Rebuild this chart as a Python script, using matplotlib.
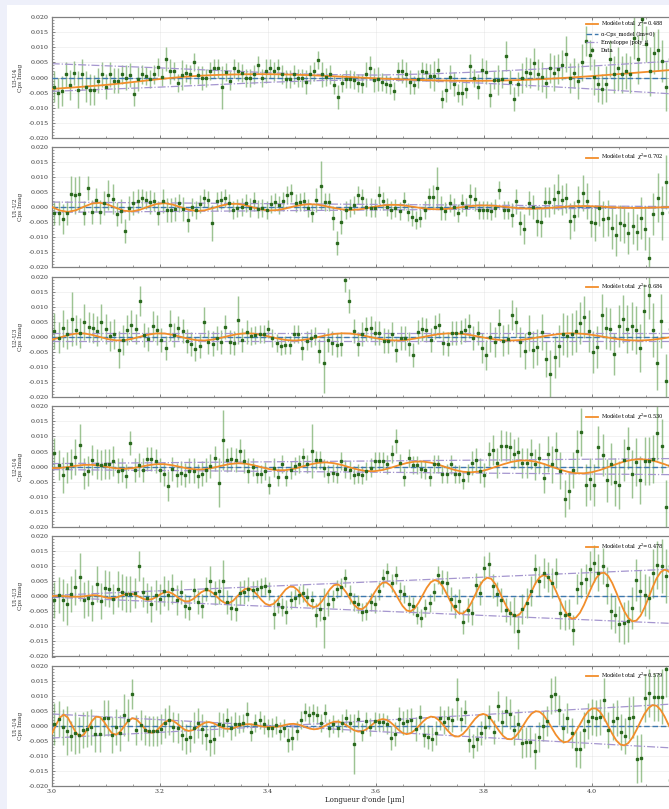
import matplotlib
matplotlib.use("Agg")
import matplotlib.pyplot as plt
from matplotlib.ticker import MultipleLocator, FormatStrFormatter
import numpy as np

# values are in units of 1e-3 (Cps imaginary part)
baselines = ["U3-U4", "U1-U2", "U2-U3", "U2-U4", "U1-U3", "U1-U4"]
chi2 = [0.488, 0.702, 0.684, 0.530, 0.478, 0.579]

cps_u3u4 = [
    -3, -5, -4.5, 1, -2.5, 1.5, -4, 1, -3, -4,
    -4.2, -1, 1, -3, 1, -1, -1, 1, 0, 0.7,
    -5.5, -0.5, 1, 0.5, -0.5, 1, 3.5, 0.3, 6, 2,
    2.2, -1.7, 0.8, 1.5, 1, 5, 0.8, -0.3, -0.3, 2.2,
    3, 3, -3.3, 1.7, -1, 3, 2, 1.5, -0.2, -0.3,
    1, 4, -0.3, 2.2, 3, 2, 3, 1, -0.6, -0.6,
    1, -0.2, -0.2, -1.5, 1, 2, 5.8, 1, 0.3, 1,
    -2.5, -6.5, -1.7, -0.5, -0.5, -0.8, -1.7, -2, 1, 3.3,
    -0.8, -0.5, -1.5, -2.2, -2.4, -4.5, 2, 2.2, 1, -1.5,
    -2.5, -0.5, 2, 1.7, 0.5, 0.5, 2.5, -7.2, -4, 0.3,
    -2.2, -5.3, -5.2, -3.7, 3.7, -0.2, -3, 2.5, 1.7, -5.8,
    -0.8, -0.8, -0.5, 7, -1.5, -7.2, -2.2, -0.3, 1.7, 1.5,
    4.8, 1, 0.3, -1.7, 3.3, 1.5, 2.8, 4.2, 7.8, -0.2,
    1.5, -1.1, 5, 12.2, 7.4, 0.3, -2.2, -3.7, -2.2, 6.3,
    1, 3, 1, 2.2, 1, 13, 6, 19.5, 11, 2,
    8, 9, 5.5, -3, 6]
err_u3u4 = [
    5, 5, 5, 4, 5, 4, 6, 5, 5, 5,
    5, 4, 4, 4, 4, 4, 4, 3, 4, 4,
    4, 4, 3, 3, 3, 3, 3, 3, 4, 4,
    3, 3, 5, 3, 3, 3, 3, 4, 3, 3,
    3, 3, 7, 3, 3, 3, 3, 3, 3, 3,
    3, 3, 3, 4, 3, 3, 3, 3, 3, 3,
    3, 3, 3, 4, 3, 3, 3, 4, 3, 3,
    3, 4, 3, 3, 3, 3, 3, 3, 4, 4,
    4, 4, 3, 3, 3, 3, 3, 4, 4, 4,
    3, 3, 3, 3, 4, 5, 4, 3, 4, 4,
    4, 3, 4, 3, 4, 3, 4, 4, 4, 4,
    3, 5, 3, 5, 4, 4, 4, 5, 5, 5,
    5, 5, 5, 5, 5, 6, 5, 5, 6, 5,
    5, 6, 6, 5, 5, 6, 6, 5, 6, 6,
    6, 7, 6, 6, 6, 7, 8, 7, 6, 8,
    7, 7, 7, 8, 7]

cps_u1u2 = [
    -1.8, -1.8, -3.9, -2, 4.3, 3.9, 4.3, -1.8, 6.3, -1.5,
    2.4, -1.7, 1.3, 4.1, 2.8, -2.3, -1.4, -7.9, -0.3, 1.3,
    2.1, 3.0, 2.4, 1.7, 1.9, -2.0, 2.1, -0.9, -0.9, -0.7,
    1.3, -0.6, -4.2, 0.2, -0.9, 1.0, 3.2, 2.4, -5.3, 1.9,
    2.4, 3.2, 1.3, -0.9, -0.3, 0.2, 1.3, -0.1, 1.9, -0.7,
    -0.3, -0.9, 1.0, 1.6, 0.8, 1.9, 4.1, 4.7, 1.3, 1.6,
    1.9, -0.3, -2.0, 2.4, 7.2, 1.6, 1.7, -3.7, -12.0, -4.8,
    -0.9, -0.3, 0.8, 4.1, 3.0, 0.2, -0.1, -0.3, 3.9, 2.1,
    0.2, -0.9, -0.3, -1.4, 2.1, -1.7, -3.1, -4.2, -3.7, -0.9,
    3.5, 3.5, 6.3, -0.3, -1.4, 1.3, 0.2, -1.8, 1.3, 0,
    3.8, 2.8, -0.9, -0.9, -0.9, -1.4, -0.3, 5.8, -0.9, -0.9,
    -2.6, 1.9, -5.3, -7.2, 1.3, 0.2, -4.6, -5.0, 1.6, 1.6,
    2.8, 5.0, 2.4, 3.0, -4.6, -2.8, 1.9, 4.8, 2.1, -4.8,
    -5.3, -0.3, -3.9, -3.5, -7.0, -9.2, -5.3, -5.9, -8.7, -6.1,
    -8.3, -3.7, -7.2, -17, -2.3, 3.2, -2.0, 8.3, -1.7]
err_u1u2 = [
    4, 4, 5, 4, 6, 6, 6, 4, 4, 4,
    4, 4, 4, 5, 5, 4, 4, 4, 4, 4,
    4, 3, 3, 4, 3, 4, 4, 4, 4, 4,
    3, 4, 4, 3, 3, 3, 3, 3, 6, 3,
    3, 3, 3, 3, 3, 3, 3, 3, 3, 3,
    3, 3, 3, 3, 3, 3, 3, 3, 3, 3,
    3, 3, 3, 4, 8, 3, 3, 4, 4, 4,
    3, 3, 3, 3, 3, 3, 3, 3, 3, 3,
    3, 3, 3, 3, 3, 3, 3, 3, 3, 3,
    3, 4, 7, 4, 3, 3, 3, 3, 3, 3,
    4, 4, 3, 3, 3, 3, 3, 3, 3, 3,
    4, 4, 4, 5, 4, 4, 5, 5, 5, 5,
    5, 6, 5, 5, 6, 5, 5, 6, 6, 5,
    6, 6, 6, 6, 7, 7, 6, 6, 7, 6,
    6, 7, 7, 7, 7, 8, 9, 9, 8]

cps_u2u3 = [
    2.1, -0.2, 2.8, 1.1, 5.9, 2.4, 1.4, 4.9, 3.4, 2.9,
    1.9, 4.9, 2.7, 0.3, 1.0, -4.2, -1.0, 2.4, 3.8, 2.5,
    12.0, 0.5, -0.6, 3.5, 2.4, -1.0, -3.6, 3.8, 0.6, 3.1,
    2.0, -1.5, -2.4, -4.0, -3.1, 5.0, -1.6, -2.2, -0.5, -1.8,
    3.3, -1.8, -1.9, 5.6, -1.0, 1.5, 0.3, 0.7, 1.0, 1.0,
    2.6, -0.5, -2.0, -2.9, -2.6, -2.6, 0.9, 1.0, -3.8, -1.2,
    -0.5, 0.2, -4.6, -8.8, -0.9, -1.9, -2.6, -2.4, 19.0, 12.0,
    1.9, -2.4, 1.0, 2.5, 2.9, 1.2, 1.2, -1.2, -1.3, 0.9,
    -4.4, -0.3, -0.3, -2.3, -5.9, 1.5, 2.6, 2.3, -1.1, 3.4,
    3.8, -2.0, -2.4, 1.2, 1.4, 1.7, 2.2, 3.6, -0.5, 1.3,
    -3.8, -5.9, 0, -1.6, 4.3, -1.2, -0.8, 7.2, 5.0, -1.8,
    -4.6, 1.4, -4.2, -3.5, 1.6, -7.2, -12.3, -6.7, -3.0, 1.1,
    0.4, 0.9, 1.9, 4.7, 6.5, 1.9, -5.1, -3.3, 7.2, 3.0,
    2.5, -5.7, 3.5, 5.9, 2.6, 3.7, 2.4, -3.6, 8.5, 13.8,
    2.2, -8.6, 5.2, -14.6, 2.5]
err_u2u3 = [
    6, 5, 6, 5, 9, 5, 5, 6, 5, 5,
    5, 6, 5, 5, 5, 6, 5, 5, 5, 5,
    5, 4, 4, 5, 5, 4, 4, 5, 4, 4,
    4, 4, 4, 4, 4, 5, 4, 4, 4, 4,
    4, 4, 4, 8, 4, 4, 3, 3, 3, 3,
    3, 3, 3, 3, 3, 3, 3, 3, 4, 3,
    3, 3, 4, 10, 4, 4, 4, 4, 4, 4,
    4, 4, 4, 4, 4, 4, 4, 4, 4, 4,
    4, 4, 4, 4, 4, 4, 4, 4, 4, 4,
    4, 4, 4, 4, 4, 4, 4, 4, 4, 4,
    5, 5, 5, 5, 5, 5, 5, 5, 5, 5,
    6, 6, 6, 6, 6, 6, 8, 7, 7, 7,
    7, 7, 7, 7, 7, 7, 7, 7, 7, 7,
    7, 7, 7, 8, 8, 8, 8, 8, 9, 8,
    9, 9, 9, 9, 9]

cps_u2u4 = [
    4.5, 0.5, -2.8, -0.3, 0.8, 3.2, 7.3, -2.3, -1.5, 2.3,
    1.0, 0.5, 0.8, 1.0, 2.0, -1.3, -1.0, -3.2, 7.9, -1.0,
    0.4, -1.0, 2.6, 2.5, 1.8, -1.2, -2.5, -6.3, -0.7, -2.7,
    -2.2, -2.8, -1.3, -1.3, -3.0, -2.3, -1.0, 0.3, 2.7, -5.3,
    8.8, 2.2, 2.5, 2.3, 5.2, 1.9, -1.3, 0, -2.6, -2.6,
    -1.5, -6.0, -0.3, -3.3, 1.0, -3.3, -1.0, 0.3, 1.0, 3.2,
    0.8, 5.3, 2.2, 2.3, -0.5, -2.5, -2.2, -2.3, 1.8, -0.8,
    -1.0, -2.8, -2.3, -2.8, -1.5, -0.3, 2.0, 2.0, 1.8, 0.7,
    4.1, 8.6, 1.1, -3.3, 2.9, 0.4, 0.5, -0.9, -1.0, -3.3,
    1.0, 0.8, -2.5, -2.3, 0.7, -2.5, -2.5, -4.6, -2.0, 1.2,
    2.3, -1.3, -2.8, 4.3, 5.5, 1.3, 7.0, 6.7, 6.5, 4.3,
    4.7, 1.3, 1.3, 4.3, 0.7, 3.0, -3.8, 4.1, 0.7, 5.5,
    -1.3, -10.6, -8.0, -1.0, 5.2, 11.6, -6.2, -4.2, -6.1, 6.5,
    3.8, -4.6, 1.0, -5.2, -6.2, 2.2, 6.2, -2.5, 1.5, -4.5,
    2.0, 1.8, 2.5, 11.1, 6.8, -13.3, 0.5]
err_u2u4 = [
    5, 5, 6, 5, 5, 6, 7, 5, 5, 5,
    5, 5, 5, 5, 5, 4, 4, 4, 4, 4,
    4, 4, 4, 4, 4, 4, 4, 5, 4, 4,
    4, 4, 4, 4, 4, 4, 4, 4, 4, 8,
    10, 4, 4, 4, 4, 4, 4, 3, 3, 3,
    3, 3, 3, 3, 3, 3, 3, 3, 3, 3,
    3, 9, 3, 3, 3, 3, 3, 3, 3, 3,
    3, 3, 3, 3, 3, 3, 3, 3, 3, 3,
    3, 4, 3, 3, 3, 3, 3, 3, 3, 3,
    3, 3, 3, 3, 3, 3, 3, 3, 3, 4,
    4, 4, 4, 4, 5, 5, 5, 5, 5, 5,
    5, 5, 5, 5, 5, 5, 5, 6, 6, 6,
    6, 6, 6, 6, 7, 8, 7, 7, 7, 7,
    7, 7, 7, 8, 8, 7, 7, 8, 8, 8,
    8, 8, 8, 9, 9, 9, 9]

cps_u1u3 = [
    -1.2, 0.5, -1.3, -2.7, 0.7, 3.1, 6.5, -1.3, -0.5, -2.3,
    4.2, -1.5, 2.8, 2.3, -0.8, 2.3, 1.3, 0.9, 0.9, 1.1,
    10.0, 1.5, -0.6, -2.6, 0.4, -1.0, 1.8, 0.3, 2.3, -1.3,
    1.5, -3.2, -4.0, 2.1, -1.8, -3.2, 2.3, 5.0, 1.0, 1.6,
    5.2, -1.8, -3.9, -4.1, 1.0, 1.5, 2.5, 2.0, 2.3, 3.1,
    3.3, 1.7, -6.0, -2.6, -3.5, -5.3, -1.3, -0.5, 0.5, 1.1,
    -0.3, -1.3, -6.3, -4.1, -7.2, -2.5, -1.0, 2.5, 3.1, 6.2,
    0.6, -1.9, -2.5, -5.3, -5.0, -1.8, -2.6, 1.8, 6.0, 8.1,
    4.5, 7.1, 1.8, 0.8, -2.6, -3.3, -6.3, -7.2, -3.8, -2.1,
    1.3, 7.2, 4.9, 4.4, -1.0, -3.3, -1.7, -8.6, -4.7, -5.6,
    3.8, 1.1, 9.4, 10.8, 3.3, 0.7, -1.3, -4.4, -5.4, -6.2,
    -11.5, -4.1, -2.3, 1.8, 9.1, 5.0, 7.6, 6.5, 4.4, 7.6,
    -5.7, -6.1, -5.8, -11.1, 2.3, 4.3, 5.8, 9.2, 10.9, 7.9,
    10.2, 3.6, -4.9, -6.1, -9.3, -8.8, -8.3, -3.8, 5.5, 1.8,
    0.5, -0.4, 7.6, 10.5, 10.2, 6.8, 10.2]
err_u1u3 = [
    6, 6, 7, 7, 6, 6, 8, 6, 6, 6,
    6, 6, 6, 6, 5, 6, 6, 6, 6, 5,
    5, 5, 5, 6, 5, 5, 5, 5, 5, 5,
    4, 4, 4, 4, 4, 4, 4, 5, 4, 4,
    7, 4, 4, 4, 4, 4, 4, 3, 3, 3,
    3, 3, 5, 3, 3, 4, 3, 3, 3, 3,
    3, 3, 4, 4, 10, 4, 3, 3, 3, 3,
    3, 3, 3, 3, 3, 3, 3, 3, 3, 3,
    3, 3, 3, 3, 3, 3, 3, 3, 3, 3,
    3, 3, 4, 4, 4, 4, 4, 4, 4, 4,
    4, 4, 4, 4, 4, 4, 4, 4, 4, 6,
    6, 5, 5, 5, 5, 5, 5, 5, 5, 5,
    5, 5, 5, 5, 5, 5, 5, 6, 6, 6,
    6, 6, 6, 6, 6, 7, 7, 7, 7, 7,
    7, 7, 8, 8, 9, 9, 9]

cps_u1u4 = [
    0.6, 2.3, -0.2, -1.5, -3.3, -2.4, -3.0, -1.3, -1.0, -0.2,
    -2.6, -2.6, 2.8, 2.8, -2.9, -0.4, -2.4, 3.6, 2.0, 10.6,
    -1.3, 0.3, -1.3, -1.8, -1.8, -1.8, -1.1, 1.1, 2.0, -0.2,
    -0.8, -2.9, -4.3, -3.5, -0.5, 1.1, -1.1, -2.9, -5.1, -4.3,
    0.7, 0.3, 2.0, -0.8, 0.7, 0.7, 1.1, 4.1, -2.1, 0.9,
    2.0, 0.5, -0.8, -0.5, 0.2, -1.8, -0.6, -4.8, -4.0, -1.5,
    2.0, 4.7, 3.5, 4.3, 3.8, 1.0, 4.3, -0.7, 0.6, -0.8,
    1.0, 2.6, 1.0, -6.0, 2.2, -2.1, 1.8, -0.2, 1.6, 1.3,
    1.3, 0.5, -4.1, -2.6, 2.2, 0.9, 1.8, 2.1, -1.0, 3.0,
    -3.0, -3.6, -4.2, -2.3, 2.6, 1.3, 2.6, 2.0, 9.1, 2.3,
    4.5, -4.5, -6.5, -4.4, -2.2, -0.4, 3.0, -2.0, 6.6, 1.3,
    4.9, 4.0, -1.2, 0.6, -5.5, -5.2, -5.2, -8.4, -3.7, 0.1,
    1.8, 10.0, 10.6, 5.4, -0.8, 2.8, -2.3, -7.7, -7.8, -1.3,
    1.8, 3.0, 2.7, 3.1, 8.8, -1.3, 1.5, 2.6, -2.0, -3.3,
    2.7, 2.9, -11.0, -10.7, 9.4, 10.9, 9.6, 9.6, 9.8, 18.8,
    -17.8]
err_u1u4 = [
    7, 6, 6, 8, 5, 7, 6, 6, 6, 6,
    6, 6, 6, 6, 6, 6, 6, 7, 7, 5,
    5, 5, 5, 5, 5, 5, 5, 5, 5, 5,
    5, 5, 5, 5, 5, 5, 5, 5, 5, 5,
    4, 4, 4, 4, 4, 3, 3, 4, 3, 3,
    3, 3, 3, 3, 3, 3, 3, 4, 4, 3,
    3, 3, 3, 3, 3, 3, 3, 3, 3, 3,
    3, 3, 3, 10, 3, 3, 3, 3, 3, 3,
    3, 3, 4, 4, 4, 4, 4, 4, 4, 4,
    4, 4, 4, 4, 4, 4, 4, 4, 7, 4,
    4, 4, 4, 4, 4, 4, 4, 4, 5, 4,
    5, 5, 5, 5, 5, 5, 5, 6, 5, 5,
    5, 6, 6, 5, 5, 5, 5, 6, 6, 6,
    6, 6, 6, 6, 7, 6, 6, 6, 6, 6,
    7, 7, 8, 8, 8, 8, 8, 8, 9, 9,
    9]

# total model (every 2nd model node for the slow ones)
model_u3u4 = [
    -3.80, -3.62, -3.43, -3.24, -3.03, -2.82, -2.62, -2.40, -2.12, -1.83,
    -1.53, -1.23, -0.93, -0.63, -0.36, -0.10, 0.13, 0.34, 0.52, 0.67,
    0.80, 0.89, 0.97, 1.03, 1.07, 1.09, 1.10, 1.09, 1.06, 1.01,
    0.94, 0.86, 0.76, 0.65, 0.53, 0.40, 0.27, 0.14, 0.01, -0.12,
    -0.25, -0.37, -0.48, -0.59, -0.69, -0.78, -0.86, -0.92, -0.98, -1.03,
    -1.07, -1.09, -1.10, -1.10, -1.08, -1.05, -1.00, -0.93, -0.85, -0.75,
    -0.64, -0.51, -0.37, -0.22, -0.06, 0.11, 0.29, 0.48, 0.67, 0.87,
    1.07, 1.28, 1.49, 1.70, 1.91, 2.12, 2.33, 2.54]
model_u1u2 = [
    0.13, -1.08, -1.56, -1.02, 0.17, 1.22, 1.47, 0.84, -0.27, -1.19,
    -1.38, -0.80, 0.21, 1.07, 1.33, 0.87, -0.01, -0.86, -1.26, -1.02,
    -0.29, 0.53, 1.08, 1.13, 0.66, -0.09, -0.75, -1.08, -0.95, -0.43,
    0.25, 0.78, 1.00, 0.83, 0.35, -0.25, -0.71, -0.91, -0.77, -0.38,
    0.14, 0.57, 0.79, 0.75, 0.47, 0.05, -0.35, -0.63, -0.70, -0.57,
    -0.27, 0.08, 0.39, 0.57, 0.58, 0.44, 0.19, -0.09, -0.33, -0.47,
    -0.47, -0.37, -0.18, 0.03, 0.22, 0.34, 0.37, 0.31, 0.20, 0.05,
    -0.09, -0.19, -0.24, -0.23, -0.18, -0.10, -0.01, 0.06]
model_u2u3 = [
    -0.91, -0.22, 0.57, 1.11, 1.15, 0.69, -0.03, -0.75, -1.16, -1.11,
    -0.61, 0.09, 0.77, 1.16, 1.13, 0.68, 0.02, -0.64, -1.10, -1.18,
    -0.87, -0.30, 0.36, 0.92, 1.19, 1.10, 0.69, 0.09, -0.53, -1.01,
    -1.20, -1.07, -0.66, -0.08, 0.52, 0.98, 1.19, 1.12, 0.78, 0.25,
    -0.33, -0.82, -1.13, -1.19, -0.99, -0.58, -0.06, 0.47, 0.91, 1.16,
    1.18, 0.97, 0.58, 0.08, -0.43, -0.87, -1.13, -1.20, -1.06, -0.74,
    -0.29, 0.19, 0.64, 0.99, 1.18, 1.17, 0.99, 0.67, 0.24, -0.22,
    -0.65, -0.98, -1.16, -1.19, -1.05, -0.77, -0.39, 0.04]
model_u2u4 = [
    -0.49, -0.45, -0.15, 0.26, 0.57, 0.59, 0.30, -0.17, -0.59, -0.74,
    -0.53, -0.06, 0.47, 0.82, 0.81, 0.43, -0.14, -0.69, -0.98, -0.87,
    -0.39, 0.25, 0.82, 1.11, 0.99, 0.48, -0.20, -0.85, -1.22, -1.19,
    -0.74, -0.04, 0.70, 1.24, 1.41, 1.13, 0.51, -0.29, -1.02, -1.48,
    -1.52, -1.14, -0.43, 0.42, 1.18, 1.65, 1.69, 1.31, 0.59, -0.30,
    -1.14, -1.71, -1.89, -1.65, -1.01, -0.12, 0.78, 1.55, 2.00, 2.03,
    1.64, 0.91, -0.02, -0.96, -1.74, -2.19, -2.22, -1.85, -1.12, -0.17,
    0.83, 1.68, 2.26, 2.46, 2.25, 1.65, 0.78, -0.24]
model_u1u3 = [
    0.06, 0.14, 0.14, 0.07, -0.03, -0.12, -0.15, -0.12, 0.00, 0.20,
    0.36, 0.34, 0.12, -0.23, -0.54, -0.63, -0.41, 0.06, 0.59, 0.89,
    0.79, 0.30, -0.38, -0.97, -1.18, -0.88, -0.15, 0.72, 1.34, 1.42,
    0.87, -0.06, -1.05, -1.67, -1.67, -0.98, 0.14, 1.28, 1.98, 1.92,
    1.08, -0.18, -1.44, -2.24, -2.26, -1.44, -0.06, 1.42, 2.44, 2.62,
    1.84, 0.43, -1.19, -2.47, -2.99, -2.52, -1.19, 0.59, 2.24, 3.21,
    3.13, 2.07, 0.34, -1.56, -3.04, -3.64, -3.15, -1.67, 0.37, 2.36,
    3.69, 3.94, 3.09, 1.35, -0.83, -2.84, -4.10, -4.25, -3.20, -1.22,
    1.16, 3.20, 4.46, 4.60, 3.55, 1.55, -0.91, -3.18, -4.69, -5.02,
    -4.05, -2.11, 0.38, 2.84, 4.68, 5.43, 4.91, 3.20, 0.69, -2.04,
    -4.34, -5.63, -5.70, -4.51, -2.30, 0.46, 3.17, 5.24, 6.19, 5.80,
    4.11, 1.60, -1.29, -3.96, -5.88, -6.63, -6.03, -4.20, -1.46, 1.61,
    4.41, 6.31, 7.05, 6.46, 4.64, 1.91, -1.23, -4.19, -6.40, -7.44,
    -7.08, -5.46, -2.86, 0.28, 3.43, 6.02, 7.59, 7.86, 6.75, 4.43,
    1.30, -1.98, -4.99, -7.22, -8.31, -8.06, -6.49, -3.83, -0.52, 2.93,
    5.95, 8.01, 8.84, 8.30, 6.49]
model_u1u4 = [
    -2.61, 0.16, 2.75, 3.79, 2.78, 0.32, -2.21, -3.48, -2.85, -0.73,
    1.69, 3.08, 2.92, 1.37, -0.78, -2.46, -2.87, -1.88, -0.03, 1.74,
    2.59, 2.20, 0.86, -0.78, -1.99, -2.25, -1.51, -0.16, 1.18, 1.92,
    1.77, 0.91, -0.25, -1.23, -1.64, -1.36, -0.57, 0.38, 1.10, 1.31,
    0.98, 0.34, -0.36, -0.84, -0.96, -0.72, -0.25, 0.23, 0.55, 0.62,
    0.45, 0.17, -0.10, -0.25, -0.33, -0.36, -0.23, 0.04, 0.38, 0.65,
    0.72, 0.53, 0.12, -0.41, -0.87, -1.10, -0.97, -0.50, 0.21, 0.92,
    1.40, 1.46, 1.08, 0.32, -0.60, -1.41, -1.86, -1.77, -1.13, -0.10,
    1.03, 1.90, 2.29, 2.07, 1.25, 0.04, -1.25, -2.27, -2.71, -2.42,
    -1.44, -0.07, 1.38, 2.55, 3.12, 2.92, 1.96, 0.46, -1.22, -2.67,
    -3.48, -3.47, -2.63, -1.15, 0.67, 2.39, 3.62, 4.03, 3.52, 2.16,
    0.25, -1.72, -3.37, -4.34, -4.40, -3.51, -1.81, 0.32, 2.45, 4.11,
    4.93, 4.72, 3.57, 1.67, -0.63, -2.86, -4.57, -5.41, -5.19, -3.91,
    -1.82, 0.59, 2.96, 4.83, 5.85, 5.79, 4.66, 2.64, 0.07, -2.57,
    -4.78, -6.13, -6.45, -5.65, -3.86, -1.37, 1.42, 4.02, 5.98, 6.94,
    6.72, 5.38, 3.13, 0.33, -2.59]

# |poly_i| envelope nodes
env_x = [
    [3.0, 3.1, 3.2, 3.3, 3.4, 3.5, 3.6, 3.7, 3.8, 3.9, 4.0, 4.1, 4.2],
    [3.0, 4.2],
    [3.0, 4.2],
    [3.0, 4.2],
    [3.0, 4.2],
    [3.0, 3.42, 4.2]]
env_y = [
    [4.6, 3.9, 3.2, 2.4, 1.6, 1.0, 0.8, 1.2, 1.9, 2.8, 3.8, 4.9, 6.0],
    [1.7, 0.15],
    [1.3, 1.3],
    [1.0, 2.75],
    [0.3, 9.4],
    [4.0, 0.0, 7.8]]
alpha_x = [3.0, 4.2]
alpha_y = [0.0, 0.0]

cps = [cps_u3u4, cps_u1u2, cps_u2u3, cps_u2u4, cps_u1u3, cps_u1u4]
errs = [err_u3u4, err_u1u2, err_u2u3, err_u2u4, err_u1u3, err_u1u4]
models = [model_u3u4, model_u1u2, model_u2u3, model_u2u4, model_u1u3, model_u1u4]

model_wave = np.linspace(3.0, 4.15, 155)

plt.rcParams.update({
    'font.family': 'serif',
    'font.serif': ['DejaVu Serif'],
    'mathtext.fontset': 'dejavuserif',
    'xtick.direction': 'in', 'ytick.direction': 'in',
    'xtick.top': True, 'ytick.right': True,
    'xtick.major.size': 2.2, 'ytick.major.size': 2.2,
    'xtick.minor.size': 1.1, 'ytick.minor.size': 1.1,
    'xtick.major.width': 0.5, 'ytick.major.width': 0.5,
    'xtick.minor.width': 0.4, 'ytick.minor.width': 0.4,
    'xtick.color': '#555555', 'ytick.color': '#555555',
    'xtick.labelcolor': '#333333', 'ytick.labelcolor': '#333333',
    'axes.unicode_minus': True,
})

fig = plt.figure(figsize=(6.69, 8.09), dpi=100)
fig.patch.set_facecolor('#eef0fa')
# white page inside the light frame
fig.add_artist(plt.Rectangle((7 / 669, 0), 1, 804 / 809, transform=fig.transFigure,
                             facecolor='white', edgecolor='none', zorder=-10))

W, H = 669.0, 809.0
left = 51.7 / W
width = 626.4 / W
height = 120.4 / H

for k in range(6):
    top_px = 17.3 + 129.7 * k
    ax = fig.add_axes([left, 1 - (top_px + 120.4) / H, width, height])
    ax.set_facecolor('white')

    y = np.asarray(cps[k]) * 1e-3
    e = np.asarray(errs[k]) * 1e-3
    wave = np.linspace(3.005, 4.145, len(y))
    m = np.asarray(models[k]) * 1e-3
    mw = model_wave if len(m) == len(model_wave) else model_wave[::2]
    ex = np.asarray(env_x[k])
    ey = np.asarray(env_y[k]) * 1e-3

    ax.grid(True, color='#d9d9d9', lw=0.4, alpha=0.6)
    ax.axhline(0, color='#888888', lw=0.6, alpha=0.6, zorder=1)
    data = ax.errorbar(wave, y, yerr=e, fmt='s', ms=1.8, color='#2b6a1f', mec='#2b6a1f',
                       ecolor='#5c9e4c', elinewidth=1.05, capsize=0, zorder=4,
                       label='Data')
    for bar in data[2]:
        bar.set_alpha(0.6)
        bar.set_zorder(2)
    l_env, = ax.plot(ex, ey, color='#a596cf', lw=0.9, ls='-.', zorder=2.5,
                     label='Enveloppe |poly_i|')
    ax.plot(ex, -ey, color='#a596cf', lw=0.9, ls='-.', zorder=2.5)
    l_alpha, = ax.plot(alpha_x, np.asarray(alpha_y) * 1e-3, color='#3d77ad', lw=1.0,
                       ls=(0, (4, 2)), zorder=2.6, label='α-Cps_model (lm=0)')
    l_mod, = ax.plot(mw, m, color='#f28e2b', lw=1.3, zorder=3,
                     label='Modèle total  $\\chi^2$=%.3f' % chi2[k])

    ax.set_xlim(3.0, 4.16)
    ax.set_ylim(-0.02, 0.02)
    ax.xaxis.set_major_locator(MultipleLocator(0.2))
    ax.xaxis.set_minor_locator(MultipleLocator(0.05))
    ax.yaxis.set_major_locator(MultipleLocator(0.005))
    ax.yaxis.set_minor_locator(MultipleLocator(0.001))
    ax.yaxis.set_major_formatter(FormatStrFormatter('%.3f'))
    ax.tick_params(labelsize=4.5, pad=2)
    for s in ax.spines.values():
        s.set_color('#808080')
        s.set_linewidth(0.9)
    ax.set_ylabel(baselines[k] + '\nCps Imag', fontsize=4.2, labelpad=4, color='#333333')

    if k < 5:
        ax.tick_params(labelbottom=False)
    else:
        ax.set_xlabel("Longueur d'onde [µm]", fontsize=5, labelpad=1.5, color='#222222')

    if k == 0:
        ax.legend(handles=[l_mod, l_alpha, l_env, data], loc='upper left',
                  bbox_to_anchor=(0.852, 0.995), fontsize=3.7, frameon=False,
                  borderpad=0.2, borderaxespad=0, labelspacing=0.45, handlelength=2.2,
                  handletextpad=0.6)
    else:
        ax.legend(handles=[l_mod], loc='upper left', bbox_to_anchor=(0.852, 0.965),
                  fontsize=3.7, frameon=False, borderpad=0.2, borderaxespad=0,
                  handlelength=2.2, handletextpad=0.6)

fig.savefig('out.png', dpi=100, facecolor=fig.get_facecolor())
